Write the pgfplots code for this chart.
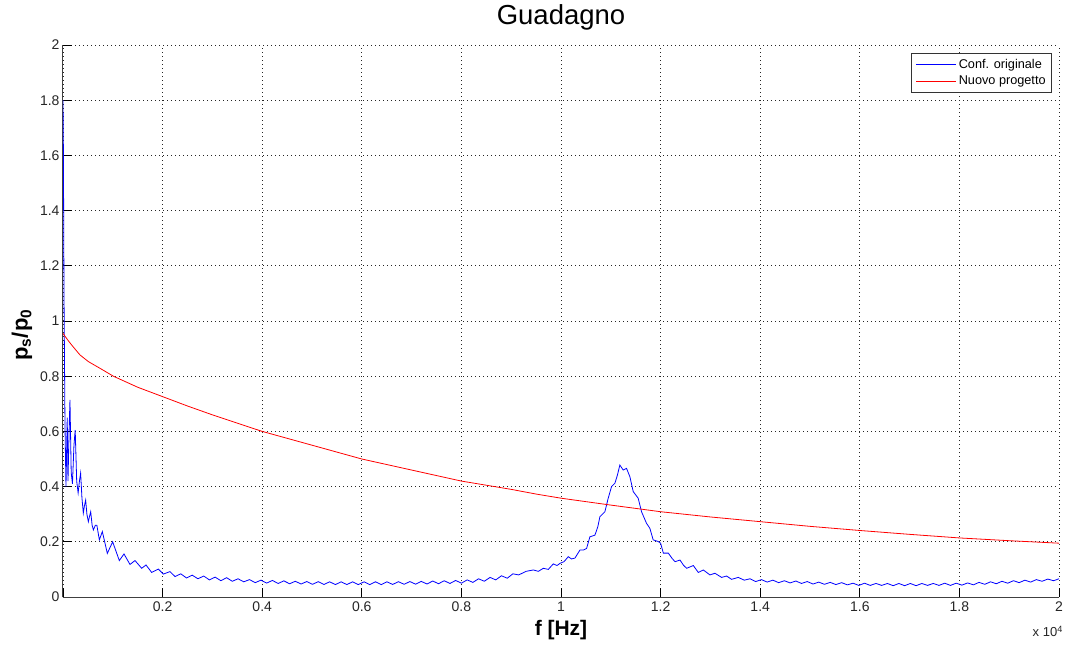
\documentclass[border=0pt]{standalone}
\usepackage{pgfplots}
\pgfplotsset{compat=1.18}
\usepackage{fontspec}
\setmainfont{Liberation Sans}

\begin{document}
\begin{tikzpicture}
    \useasboundingbox (-63pt,-48pt) rectangle (1004pt,597pt);
    \begin{axis}[
        width=996pt, height=552pt,
        scale only axis,
        xmin=0, xmax=20000,
        ymin=0, ymax=2,
        axis x line=bottom,
        axis y line=left,
        axis line style={-, black!75, line width=1pt},
        tick align=inside,
        major tick length=9pt,
        tick style={black, line width=0.8pt},
        xtick={0,2000,4000,6000,8000,10000,12000,14000,16000,18000,20000},
        xticklabels={,0.2,0.4,0.6,0.8,1,1.2,1.4,1.6,1.8,2},
        ytick={0,0.2,0.4,0.6,0.8,1,1.2,1.4,1.6,1.8,2},
        yticklabels={0,0.2,0.4,0.6,0.8,1,1.2,1.4,1.6,1.8,2},
        scaled x ticks=false,
        ticklabel style={font=\fontsize{14}{16}\selectfont, black!85},
        /pgf/number format/assume math mode=true,
        xticklabel style={yshift=-1pt},
        grid=major,
        major grid style={black!85, line width=0.7pt, dash pattern=on 1pt off 3pt},
        title={Guadagno},
        title style={font=\fontsize{27.5}{29}\selectfont, at={(axis description cs:0.5,1)}, anchor=center, yshift=22pt},
        xlabel={\textbf{f [Hz]}},
        xlabel style={font=\fontsize{21}{23}\selectfont, at={(axis description cs:0.5,0)}, anchor=center, yshift=-33pt},
        legend style={at={(rel axis cs:0.993,0.9855)}, anchor=north east, draw=black!80, line width=0.8pt, fill=white,
            font=\fontsize{12.7}{15}\selectfont, inner xsep=4pt, inner ysep=4pt, row sep=2pt},
        legend cell align=left,
        legend image code/.code={\draw[#1, line width=1pt] (0pt,0pt) -- (40pt,0pt);},
        clip=true,
    ]
    % configurazione originale
    \addplot[blue, line width=0.8pt] coordinates {
        (0,1.80) (8,1.62) (20,1.10) (40,0.62) (60,0.40) (85,0.65) (100,0.42) (125,0.62)
        (140,0.714) (165,0.45) (190,0.41) (220,0.55) (245,0.605) (275,0.42) (304,0.377)
        (330,0.42) (354,0.449) (380,0.36) (408,0.304) (430,0.33) (455,0.351) (480,0.30)
        (509,0.273) (530,0.29) (556,0.309) (585,0.26) (610,0.243) (650,0.26) (680,0.26)
        (730,0.207) (790,0.237) (890,0.158) (997,0.200) (1131,0.132) (1225,0.156)
        (1345,0.118) (1446,0.132) (1580,0.104) (1667,0.116) (1781,0.089) (1914,0.101)
        (2014,0.083) (2148,0.092)
        (2250,0.074) (2365,0.084) (2480,0.069) (2595,0.079) (2710,0.066) (2825,0.076)
        (2940,0.062) (3055,0.072) (3170,0.059) (3285,0.070) (3400,0.057) (3515,0.066)
        (3630,0.055) (3745,0.063) (3860,0.052) (3975,0.061) (4090,0.0505) (4205,0.060)
        (4320,0.049) (4435,0.0585) (4550,0.048) (4665,0.057) (4780,0.047) (4895,0.056)
        (5010,0.046) (5125,0.0555) (5240,0.0455) (5355,0.055) (5470,0.045) (5585,0.055)
        (5700,0.045) (5815,0.055) (5930,0.045) (6045,0.055) (6160,0.045) (6275,0.055)
        (6390,0.045) (6505,0.055) (6620,0.0455) (6735,0.0555) (6850,0.046) (6965,0.056)
        (7080,0.0465) (7195,0.0565) (7310,0.047) (7425,0.058) (7540,0.048) (7655,0.059)
        (7770,0.049) (7885,0.060) (8000,0.050) (8115,0.062) (8230,0.053) (8345,0.066)
        (8460,0.057) (8575,0.071) (8690,0.062) (8805,0.077) (8920,0.068) (9035,0.084)
        (9150,0.080) (9300,0.093) (9445,0.098) (9545,0.093) (9645,0.104) (9745,0.100)
        (9845,0.120) (9920,0.114) (9980,0.122) (10060,0.128) (10146,0.146) (10210,0.138)
        (10280,0.141) (10380,0.170) (10450,0.170) (10514,0.176) (10580,0.218) (10681,0.224)
        (10740,0.255) (10781,0.291) (10881,0.309) (10948,0.358) (11015,0.400) (11082,0.412)
        (11130,0.440) (11182,0.478) (11249,0.460) (11316,0.466) (11383,0.436) (11450,0.382)
        (11550,0.358) (11617,0.309) (11717,0.267) (11784,0.249) (11851,0.207) (11951,0.201)
        (12000,0.195) (12055,0.159) (12155,0.159) (12230,0.140) (12289,0.128) (12389,0.134)
        (12460,0.115) (12523,0.104) (12657,0.114) (12757,0.089) (12857,0.098) (12991,0.080)
        (13091,0.086) (13225,0.071) (13325,0.076) (13425,0.064) (13559,0.071) (13680,0.061)
        (13795,0.066) (13910,0.056) (14025,0.063) (14140,0.054) (14255,0.061) (14370,0.052)
        (14485,0.059) (14600,0.051) (14715,0.058) (14830,0.049) (14945,0.056) (15060,0.047)
        (15175,0.054) (15290,0.046) (15405,0.053) (15520,0.045) (15635,0.052) (15750,0.044)
        (15865,0.050) (15980,0.042) (16095,0.050) (16210,0.042) (16325,0.049) (16440,0.042)
        (16555,0.049) (16670,0.041) (16785,0.049) (16900,0.041) (17015,0.049) (17130,0.041)
        (17245,0.049) (17360,0.042) (17475,0.049) (17590,0.042) (17705,0.050) (17820,0.042)
        (17935,0.050) (18050,0.043) (18165,0.051) (18280,0.044) (18395,0.053) (18510,0.046)
        (18625,0.055) (18740,0.048) (18855,0.057) (18970,0.050) (19085,0.059) (19200,0.052)
        (19315,0.061) (19430,0.054) (19545,0.063) (19660,0.057) (19775,0.065) (19890,0.059)
        (20000,0.066)
    };
    \addlegendentry{Conf. originale}
    % nuovo progetto
    \addplot[red, line width=0.8pt] coordinates {
        (0,0.955) (100,0.930) (174,0.913) (341,0.877) (509,0.853) (777,0.825) (1011,0.800)
        (1500,0.760) (2000,0.726) (2500,0.692) (3000,0.660) (3500,0.630) (4000,0.600)
        (4500,0.575) (5000,0.550) (5500,0.525) (6000,0.500) (6500,0.480) (7000,0.460)
        (7500,0.440) (8000,0.420) (8500,0.405) (9000,0.390) (9500,0.373) (10000,0.358)
        (11000,0.333) (12000,0.309) (13000,0.290) (14000,0.273) (15000,0.256) (16000,0.241)
        (17000,0.227) (18000,0.214) (19000,0.204) (20000,0.195)
    };
    \addlegendentry{Nuovo progetto}
    \end{axis}
    % etichetta asse y e fattore di scala
    \node[rotate=90, font=\fontsize{22}{24}\selectfont, inner sep=0pt] at (-41pt,262pt)
        {\textbf{p\textsubscript{s}/p\textsubscript{0}}};
    \node[anchor=north east, font=\fontsize{13}{15}\selectfont, black!85, inner sep=0pt]
        at (1000pt,-29pt) {x 10\textsuperscript{4}};
\end{tikzpicture}
\end{document}
